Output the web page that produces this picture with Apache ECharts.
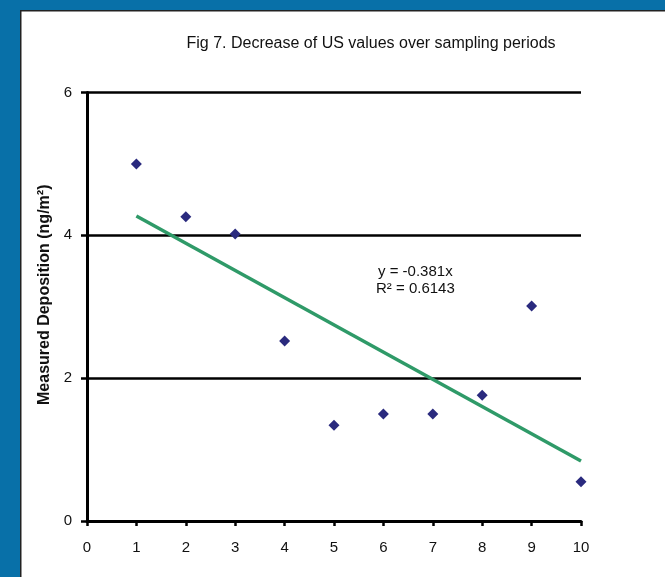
<!DOCTYPE html>
<html>
<head>
    <meta charset="utf-8"/>
    <title>Fig 7</title>
    <script src="https://cdn.jsdelivr.net/npm/echarts@6/dist/echarts.min.js"></script>
    <style>
        body { margin: 0; background: #fff; }
        #chart { width: 665px; height: 577px; }
    </style>
</head>
<body>
<div id="chart"></div>
<script>
    // sampling periods and measured values
    var periods = [1, 2, 3, 4, 5, 6, 7, 8, 9, 10];
    var deposition = [5.0, 4.26, 4.02, 2.52, 1.34, 1.5, 1.5, 1.76, 3.01, 0.55];
    // trend line end points
    var trendX = [1, 10];
    var trendY = [4.27, 0.84];
    var xTicks = [0, 1, 2, 3, 4, 5, 6, 7, 8, 9, 10];
    var yTicks = [0, 2, 4, 6];

    var points = periods.map(function (p, i) { return [p, deposition[i]]; });
    var trend = trendX.map(function (p, i) { return [p, trendY[i]]; });

    var myChart = echarts.init(document.getElementById('chart'));
    var option = {
        animation: false,
        backgroundColor: '#fff',
        textStyle: { fontFamily: 'Liberation Sans, Arial, sans-serif' },
        title: {
            text: 'Fig 7. Decrease of US values over sampling periods',
            left: 366,
            textAlign: 'center',
            top: 31,
            textStyle: { fontSize: 16, fontWeight: 'normal', color: '#111', fontFamily: 'Liberation Sans' }
        },
        grid: { left: 87, right: 84, top: 92.5, bottom: 56, containLabel: false },
        xAxis: {
            type: 'value',
            min: xTicks[0],
            max: xTicks[xTicks.length - 1],
            interval: 1,
            axisLine: { onZero: false, lineStyle: { color: '#000', width: 3 } },
            axisTick: { show: true, length: 5, lineStyle: { color: '#000', width: 2.5 } },
            axisLabel: { color: '#111', fontSize: 15, margin: 19 },
            splitLine: { show: false }
        },
        yAxis: {
            type: 'value',
            min: yTicks[0],
            max: yTicks[yTicks.length - 1],
            interval: 2,
            name: 'Measured Deposition (ng/m²)',
            nameLocation: 'middle',
            nameGap: 33,
            nameTextStyle: { fontSize: 16, fontWeight: 'bold', color: '#111', padding: [0, 0, 0, 24] },
            axisLine: { show: true, onZero: false, lineStyle: { color: '#000', width: 3 } },
            axisTick: { show: true, length: 6, lineStyle: { color: '#000', width: 2.5 } },
            axisLabel: { color: '#111', fontSize: 15, margin: 15 },
            splitLine: { show: true, lineStyle: { color: '#000', width: 2.5 } }
        },
        graphic: [
            { type: 'rect', z: 100, shape: { x: 0, y: 0, width: 665, height: 10 }, style: { fill: '#0870a8' } },
            { type: 'rect', z: 100, shape: { x: 0, y: 0, width: 20, height: 577 }, style: { fill: '#0870a8' } },
            { type: 'rect', z: 100, shape: { x: 20, y: 10, width: 645, height: 1.5 }, style: { fill: '#222' } },
            { type: 'rect', z: 100, shape: { x: 20, y: 10, width: 1.5, height: 567 }, style: { fill: '#222' } },
            {
                type: 'text', left: 378, top: 264, z: 100,
                style: { text: 'y = -0.381x', fontSize: 15, fill: '#111', fontFamily: 'Liberation Sans' }
            },
            {
                type: 'text', left: 376, top: 281, z: 100,
                style: { text: 'R² = 0.6143', fontSize: 15, fill: '#111', fontFamily: 'Liberation Sans' }
            }
        ],
        series: [{
            name: 'trend',
            type: 'line',
            data: trend,
            symbol: 'none',
            lineStyle: { color: '#2f9a68', width: 3.5 },
            z: 2
        }, {
            name: 'US values',
            type: 'scatter',
            data: points,
            symbol: 'diamond',
            symbolSize: [11, 11],
            itemStyle: { color: '#2a2a7e', opacity: 1 },
            z: 3
        }]
    };
    myChart.setOption(option);
</script>
</body>
</html>
